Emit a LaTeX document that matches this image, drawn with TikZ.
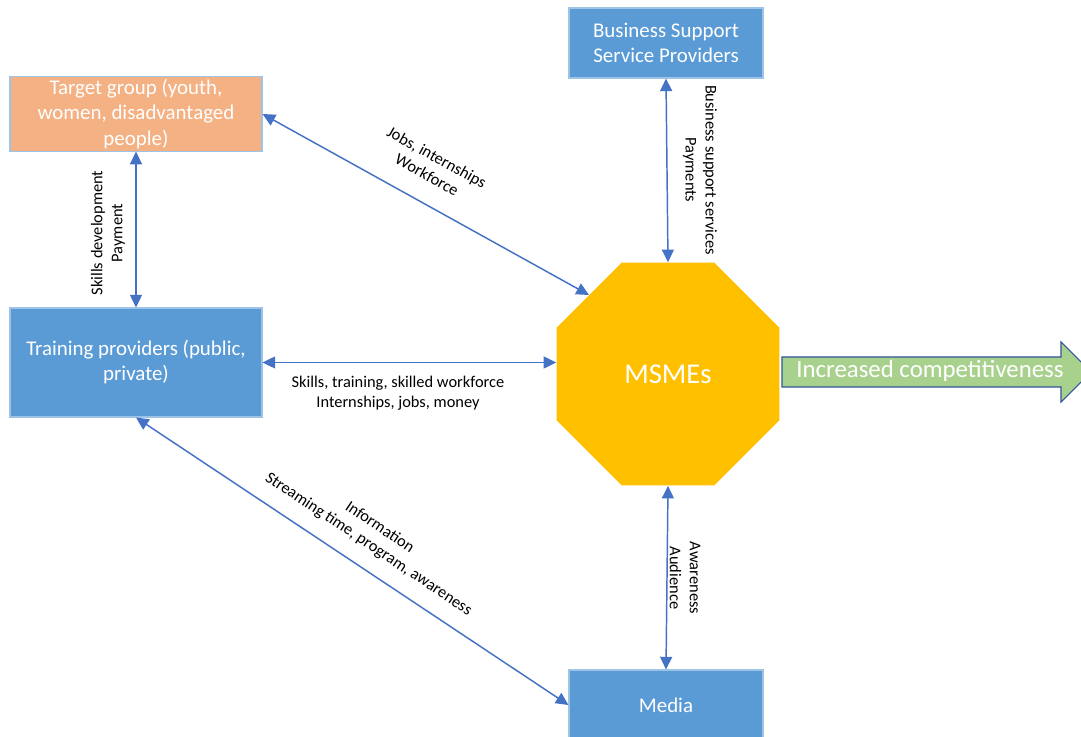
\documentclass[tikz,border=0pt]{standalone}
\usepackage{fontspec}
\setmainfont{Carlito}
\usetikzlibrary{shapes.geometric,arrows.meta}
\definecolor{boxblue}{HTML}{5B9BD5}
\definecolor{boxedge}{HTML}{9DC3E6}
\definecolor{tgorange}{HTML}{F4B183}
\definecolor{msmegold}{HTML}{FFC000}
\definecolor{linkblue}{HTML}{4472C4}
\definecolor{growgreen}{HTML}{A9D18E}
\definecolor{growedge}{HTML}{2F5597}
\tikzset{
  actor/.style={draw=boxedge, line width=0.8pt, fill=boxblue, text=white,
    align=center, inner sep=2pt, font=\fontsize{15.7}{18.8}\selectfont},
  flow/.style={draw=linkblue, line width=1.1pt,
    {Triangle[length=9.5pt,width=9pt]}-{Triangle[length=9.5pt,width=9pt]}},
  flowtext/.style={align=center, inner sep=0pt, font=\fontsize{12.3}{15}\selectfont},
}
\begin{document}
\begin{tikzpicture}[x=0.75pt,y=-0.75pt]
\clip (0,0) rectangle (1081,737);
\fill[white] (0,0) rectangle (1081,737);

% actors
\node[actor, fill=tgorange, minimum width=189pt, minimum height=52.5pt] (tg) at (136,114)
  {Target group (youth,\\women, disadvantaged\\people)};
\node[actor, minimum width=145.5pt, minimum height=52.5pt] (bssp) at (666,43)
  {Business Support\\Service Providers};
\node[actor, minimum width=189pt, minimum height=81.75pt] (tp) at (136,362.5)
  {Training providers (public,\\private)};
\node[actor, minimum width=145.5pt, minimum height=52.5pt] (media) at (666,705) {Media};

% the enterprises in the middle
\node[regular polygon, regular polygon sides=8, minimum size=181pt, inner sep=0pt,
  fill=msmegold, text=white, font=\fontsize{21.5}{25}\selectfont] (msme) at (668,374) {MSMEs};

% outcome arrow
\path[fill=growgreen, draw=growedge, line width=0.8pt]
  (782,357) -- (1061,357) -- (1061,342) -- (1091,372) -- (1061,402) -- (1061,387) -- (782,387) -- cycle;
\node[text=white, font=\fontsize{18.6}{22}\selectfont, inner sep=0pt] (comp) at (930,371) {Increased competitiveness};

% exchanges
\draw[flow] (tg.south) -- (tp.north);
\draw[flow] (tg.east) -- (msme.135);
\draw[flow] (tp.east) -- (tp.east -| msme.west);
\draw[flow] (bssp.south) -- (msme.north);
\draw[flow] (tp.south) -- (media.west);
\draw[flow] (msme.south) -- (media.north);

% exchange labels
\node[flowtext, rotate=90] (l1) at (108,233) {Skills development\\Payment};
\node[flowtext, rotate=-29] (l2) at (432,166) {Jobs, internships\\Workforce};
\node[flowtext] (l3) at (398,393) {Skills, training, skilled workforce\\Internships, jobs, money};
\node[flowtext, rotate=-90] (l4) at (700,170) {Business support services\\Payments};
\node[flowtext, rotate=-33.7] (l5) at (374,536) {Information\\Streaming time, program, awareness};
\node[flowtext, rotate=-90] (l6) at (685,578) {Awareness\\Audience};
\end{tikzpicture}
\end{document}
